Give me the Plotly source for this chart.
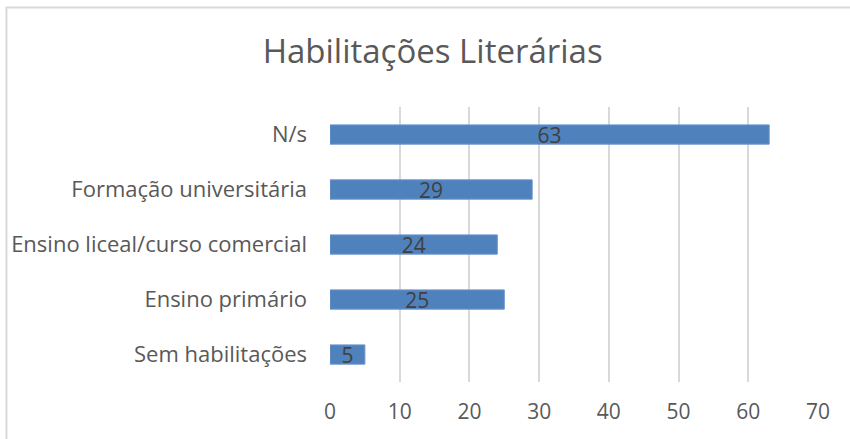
import plotly.graph_objects as go

categories = ["Sem habilitações", "Ensino primário", "Ensino liceal/curso comercial",
              "Formação universitária", "N/s"]
values = [5, 25, 24, 29, 63]
x_ticks = [0, 10, 20, 30, 40, 50, 60, 70]

FONT = "'Open Sans', Lato, sans-serif"
GRAY = "#595959"

fig = go.Figure()
fig.add_trace(go.Bar(
    y=categories, x=values, orientation="h",
    marker=dict(color="#4F81BD", line=dict(color="#6A95CC", width=1)),
    text=[str(v) for v in values],
    textposition="inside", insidetextanchor="middle",
    textangle=0, constraintext="none",
    textfont=dict(family=FONT, size=21, color="#404040"),
    hoverinfo="skip",
))

# chart border (Excel chart area outline)
fig.add_shape(type="rect", xref="paper", yref="paper",
              x0=-0.663, x1=1.2, y0=-0.35, y1=1.362,
              line=dict(color="#D9D9D9", width=2), fillcolor="rgba(0,0,0,0)",
              layer="below")

fig.update_layout(
    width=850, height=439,
    margin=dict(l=330, r=32, t=107, b=57),
    paper_bgcolor="white", plot_bgcolor="white",
    bargap=0.65,
    showlegend=False,
    title=dict(text="Habilitações Literárias", x=0.509, xanchor="center",
               y=0.882, yanchor="middle",
               font=dict(family=FONT, size=33, color=GRAY)),
    font=dict(family=FONT, color=GRAY),
    xaxis=dict(range=[0, 70], tickvals=x_ticks, showgrid=True,
               gridcolor="#D9D9D9", gridwidth=2, zeroline=False,
               showline=False, ticks="", ticklabelstandoff=15,
               tickfont=dict(family=FONT, size=21, color=GRAY)),
    yaxis=dict(showgrid=False, zeroline=False, showline=False, ticks="",
               ticklabelstandoff=22,
               tickfont=dict(family=FONT, size=22, color=GRAY)),
)

fig.write_html("out.html", config={"displayModeBar": False},
               post_script="document.body.style.margin='0';")
